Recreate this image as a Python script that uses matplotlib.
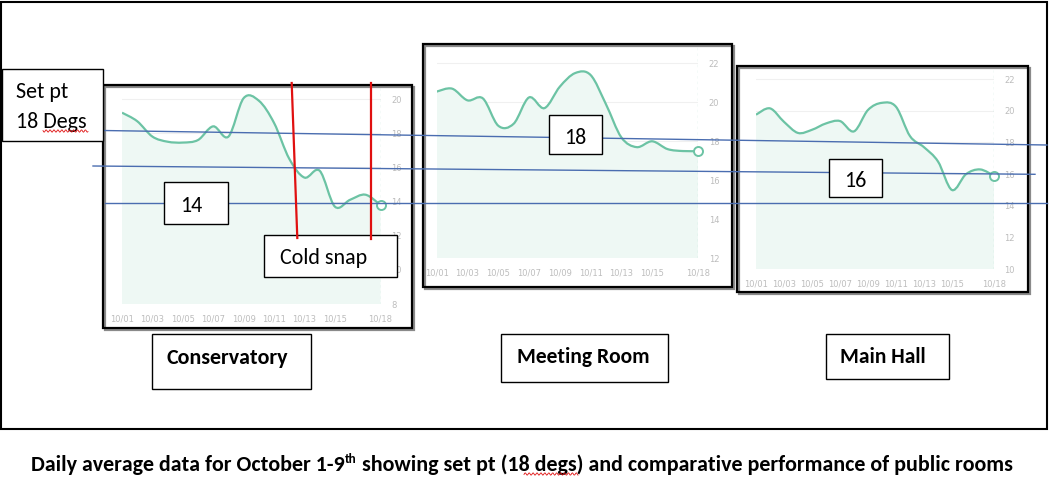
import numpy as np
import matplotlib
matplotlib.use("Agg")
import matplotlib.pyplot as plt
from matplotlib.path import Path
from matplotlib.patches import PathPatch, Rectangle
from matplotlib import font_manager

# daily average temperatures, 10/01 .. 10/18
dates = ['10/01', '10/02', '10/03', '10/04', '10/05', '10/06', '10/07', '10/08', '10/09',
         '10/10', '10/11', '10/12', '10/13', '10/14', '10/15', '10/16', '10/17', '10/18']
tick_dates = ['10/01', '10/03', '10/05', '10/07', '10/09', '10/11', '10/13', '10/15', '10/18']

conservatory = [19.2, 18.7, 17.8, 17.5, 17.45, 17.6, 18.4, 17.8, 20.05, 19.9,
                18.6, 16.5, 15.4, 15.8, 13.7, 14.1, 14.4, 13.8]
meeting_room = [20.55, 20.7, 20.1, 20.2, 18.8, 18.9, 20.25, 19.7, 20.8, 21.5,
                21.4, 19.9, 18.2, 17.7, 18.0, 17.6, 17.5, 17.5]
main_hall = [19.75, 20.15, 19.3, 18.6, 18.8, 19.2, 19.35, 18.7, 20.05, 20.5,
             20.25, 18.4, 17.7, 16.8, 15.0, 16.0, 16.3, 15.9]

cons_ticks = [8, 10, 12, 14, 16, 18, 20]
meet_ticks = [12, 14, 16, 18, 20, 22]
hall_ticks = [10, 12, 14, 16, 18, 20, 22]

room_names = ['Conservatory', 'Meeting Room', 'Main Hall']
level_labels = ['14', '18', '16']
caption_main = 'Daily average data for October 1-9'
caption_rest = ' showing set pt (18 degs) and comparative performance of public rooms'

available = {f.name for f in font_manager.fontManager.ttflist}
FONT = next((f for f in ['Carlito', 'Liberation Sans Narrow', 'Lato'] if f in available), 'DejaVu Sans')

TEAL = '#6cc3a4'
FILL = '#eef8f4'
BLUE = '#4a6db0'
RED = '#e01010'

W, H = 1049, 491
fig = plt.figure(figsize=(W / 100, H / 100), dpi=100)


def smooth(x, y):
    # catmull-rom curve through the points, as bezier segments
    n = len(x)
    verts = [(x[0], y[0])]
    codes = [Path.MOVETO]
    for i in range(n - 1):
        a, b = max(i - 1, 0), min(i + 2, n - 1)
        c1 = (x[i] + (x[i + 1] - x[a]) / 6, y[i] + (y[i + 1] - y[a]) / 6)
        c2 = (x[i + 1] - (x[b] - x[i]) / 6, y[i + 1] - (y[b] - y[i]) / 6)
        verts += [c1, c2, (x[i + 1], y[i + 1])]
        codes += [Path.CURVE4] * 3
    return verts, codes


def panel(values, yticks, x0, x1, ytop, ybot, ytop_val):
    ax = fig.add_axes([x0 / W, 1 - ybot / H, (x1 - x0) / W, (ybot - ytop) / H], zorder=1)
    x = np.arange(len(values))
    y = np.array(values)
    ylo = yticks[0]
    verts, codes = smooth(x, y)
    fill_verts = verts + [(x[-1], ylo), (x[0], ylo), (x[0], y[0])]
    fill_codes = codes + [Path.LINETO, Path.LINETO, Path.CLOSEPOLY]
    ax.add_patch(PathPatch(Path(fill_verts, fill_codes), fc=FILL, ec='none', zorder=1))
    ax.add_patch(PathPatch(Path(verts, codes), fc='none', ec=TEAL, lw=1.6, zorder=3))
    ax.axvline(x[-1], color='#a8dccb', lw=0.9, ls=(0, (2, 2.5)), zorder=2)
    ax.plot(x[-1], y[-1], 'o', ms=6.5, mfc='white', mec=TEAL, mew=1.4, clip_on=False, zorder=4)
    ax.set_xlim(0, len(values) - 1)
    ax.set_ylim(ylo, ytop_val)
    ax.set_xticks([dates.index(d) for d in tick_dates])
    ax.set_xticklabels(tick_dates)
    ax.set_yticks(yticks)
    ax.yaxis.tick_right()
    ax.tick_params(length=0, labelsize=6, labelcolor='#bdbdbd')
    ax.tick_params(axis='x', pad=7.5)
    ax.tick_params(axis='y', pad=7.5)
    ax.grid(axis='y', color='#f0f0f0', lw=0.8)
    ax.set_axisbelow(True)
    for s in ax.spines.values():
        s.set_visible(False)
    return ax


panel(conservatory, cons_ticks, 122, 380.5, 85, 304, 20.82)
panel(meeting_room, meet_ticks, 436.7, 698.3, 45.75, 258.3, 22.9)
panel(main_hall, hall_ticks, 756, 994, 70, 269.3, 22.57)

# overlay in pixel coordinates for the slide drawing
ov = fig.add_axes([0, 0, 1, 1], zorder=5)
ov.set_xlim(0, W)
ov.set_ylim(H, 0)
ov.axis('off')
ov.patch.set_alpha(0)


def box(x0, y0, x1, y1, lw=1.0, z=4, shadow=False):
    if shadow:
        ov.add_patch(Rectangle((x0 + 2, y0 + 2), x1 - x0, y1 - y0, fc='none', ec='#8a8a8a', lw=lw, zorder=z - 0.1))
    ov.add_patch(Rectangle((x0, y0), x1 - x0, y1 - y0, fc='none' if shadow else 'white', ec='black', lw=lw, zorder=z))


# outer slide frame
ov.add_patch(Rectangle((1, 1.5), 1046, 427.5, fc='none', ec='black', lw=1.5, zorder=1))

# chart frames
box(103, 85, 412, 328, lw=1.6, z=2, shadow=True)
box(423, 44, 732, 287, lw=1.6, z=2, shadow=True)
box(736.7, 65.7, 1027.7, 291.7, lw=1.6, z=2, shadow=True)

# comparison lines
ov.plot([103, 1047], [130.5, 145], color=BLUE, lw=1.0, zorder=3)
ov.plot([93, 1035], [166, 174.3], color=BLUE, lw=1.0, zorder=3)
ov.plot([105, 1047], [203.3, 203.3], color=BLUE, lw=1.0, zorder=3)

TXT = 15.8

# level boxes
box(164.3, 182.3, 227.7, 224.3)
ov.text(180, 211.7, level_labels[0], fontsize=TXT, family=FONT, va='baseline', ha='left', zorder=5)
box(549.3, 115, 601.7, 154.3)
ov.text(575.3, 144, level_labels[1], fontsize=TXT, family=FONT, va='baseline', ha='center', zorder=5)
box(829.3, 159, 881.7, 196.7)
ov.text(855, 187.3, level_labels[2], fontsize=TXT, family=FONT, va='baseline', ha='center', zorder=5)

# set point box
box(1.7, 69.3, 103.3, 141)
ov.text(16, 98.3, 'Set pt', fontsize=TXT, family=FONT, va='baseline', zorder=5)
ov.text(16, 127.7, '18 Degs', fontsize=TXT, family=FONT, va='baseline', zorder=5)
wx = np.linspace(43, 88, 60)
ov.plot(wx, 131 + 1.2 * np.sin(wx * 1.6), color=RED, lw=0.6, zorder=5)

# cold snap
box(264.3, 235, 396.7, 277.3)
ov.text(280, 264.3, 'Cold snap', fontsize=TXT, family=FONT, va='baseline', zorder=5)
ov.plot([291.7, 297.3], [83, 238], color=RED, lw=1.6, zorder=6)
ov.plot([370.7, 370.7], [83, 239], color=RED, lw=1.6, zorder=6)

# room labels
box(152.3, 334, 310.7, 389.3)
ov.text(227.5, 364.3, room_names[0], fontsize=15.8, family=FONT, weight='bold', ha='center', va='baseline', zorder=5)
box(501, 334.3, 668, 381.7)
ov.text(583, 363.3, room_names[1], fontsize=15.5, family=FONT, weight='bold', ha='center', va='baseline', zorder=5)
box(825.7, 334.3, 949, 379.3)
ov.text(883.3, 363.3, room_names[2], fontsize=15.5, family=FONT, weight='bold', ha='center', va='baseline', zorder=5)

# caption
t1 = ov.text(30.7, 470.7, caption_main, fontsize=15.8, family=FONT, weight='bold', va='baseline', zorder=5)
t2 = ov.annotate('th', xy=(1, 1), xycoords=t1, xytext=(0.5, 1), textcoords='offset points',
                 fontsize=9.5, family=FONT, weight='bold', va='top', ha='left', zorder=5)
ov.annotate(caption_rest, xy=(1, 0), xycoords=(t2, t1), fontsize=15.8, family=FONT, weight='bold',
            va='bottom', ha='left', zorder=5)
cx = np.linspace(524, 578, 70)
ov.plot(cx, 474 + 1.2 * np.sin(cx * 1.6), color=RED, lw=0.6, zorder=5)

fig.savefig('out.png', dpi=100)
